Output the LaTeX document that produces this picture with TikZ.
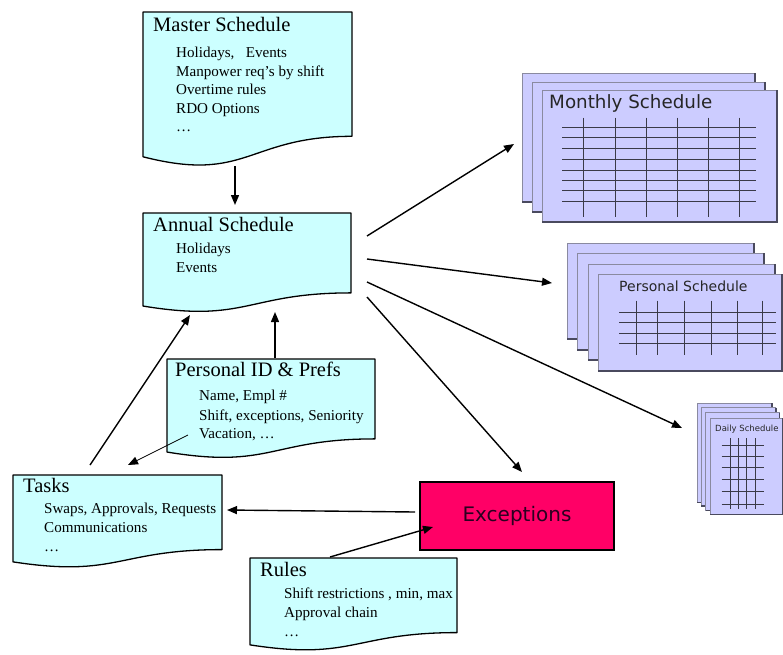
\documentclass[tikz,border=0pt]{standalone}
\usepackage{fontspec}
\setmainfont{Liberation Serif}
\newfontfamily\sansf{DejaVu Sans}
\usetikzlibrary{arrows.meta}
\definecolor{docfill}{HTML}{CCFFFF}
\definecolor{pagefill}{HTML}{CCCCFF}
\definecolor{excfill}{HTML}{FF0066}
\definecolor{pageedge}{HTML}{8A8AA0}
\definecolor{pageshadow}{HTML}{4A4A5E}
\definecolor{gridcol}{HTML}{3A3A48}
\definecolor{exctext}{HTML}{2A0020}
\tikzset{
  docstyle/.style={fill=docfill, draw=black, line width=1.3pt, line join=round},
  doctitle/.style={font=\fontsize{20.5}{24}\selectfont, anchor=base west, inner sep=0pt},
  docitem/.style={font=\fontsize{15.1}{18}\selectfont, anchor=base west, inner sep=0pt},
  flow/.style={draw=black, line width=1.4pt, -{Triangle[length=10pt,width=8pt]}},
  thinflow/.style={draw=black, line width=0.8pt, -{Triangle[length=10pt,width=8pt]}},
  sheetfill/.style={fill=pagefill},
  sheetedge/.style={draw=pageedge, line width=0.8pt},
  sheetshadow/.style={draw=pageshadow, line width=1.6pt},
  gridline/.style={draw=gridcol, line width=0.8pt},
  schedtitle/.style={anchor=base west, inner sep=0pt, text=black!85},
}
% document shape: name, left, top, right, height
\newcommand{\docshape}[5]{%
  \draw[docstyle] (#2,#3) -- (#4,#3) -- (#4,{#3+0.802*#5})
    .. controls ({(#2+#4)/2},{#3+0.802*#5}) and ({(#2+#4)/2},{#3+1.107*#5}) .. (#2,{#3+0.934*#5}) -- cycle;
  \coordinate (#1) at ({(#2+#4)/2},{#3+#5/2});
}
% sheet: left, top, right, bottom
\newcommand{\sheet}[4]{%
  \fill[sheetfill] (#1,#2) rectangle (#3,#4);
  \draw[sheetedge] (#1,#4) -- (#1,#2) -- (#3,#2);
  \draw[sheetshadow] (#3,#2) -- (#3,#4) -- (#1,#4);
}
\begin{document}
\begin{tikzpicture}[x=1pt, y=-1pt]
\useasboundingbox (0,0) rectangle (783,654);

% ---------- documents ----------
\docshape{master}{143}{12}{352}{155}
\node[doctitle] (mastertitle) at (153,31) {Master Schedule};
\node[docitem] (master1) at (176,57) {Holidays,\ \ \ Events};
\node[docitem] (master2) at (176,76) {Manpower req’s by shift};
\node[docitem] (master3) at (176,94.5) {Overtime rules};
\node[docitem] (master4) at (176,113) {RDO Options};
\node[docitem] (master5) at (176,131.5) {…};

\docshape{annual}{143}{213}{351}{99.6}
\node[doctitle] (annualtitle) at (153,231) {Annual Schedule};
\node[docitem] (annual1) at (176,253.5) {Holidays};
\node[docitem] (annual2) at (176,272) {Events};

\docshape{pers}{167}{359}{375}{99.6}
\node[doctitle] (perstitle) at (175,376.5) {Personal ID \& Prefs};
\node[docitem] (pers1) at (199,400) {Name, Empl \#};
\node[docitem] (pers2) at (199,420) {Shift, exceptions, Seniority};
\node[docitem] (pers3) at (199,438) {Vacation, …};

\docshape{tasks}{13}{475}{222}{93}
\node[doctitle] (taskstitle) at (23,492) {Tasks};
\node[docitem] (tasks1) at (44,513.5) {Swaps, Approvals, Requests};
\node[docitem] (tasks2) at (44,532) {Communications};
\node[docitem] (tasks3) at (44,551) {…};

\docshape{rules}{250}{558}{457}{93}
\node[doctitle] (rulestitle) at (260,576) {Rules};
\node[docitem] (rules1) at (284,598) {Shift restrictions , min, max};
\node[docitem] (rules2) at (284,617.5) {Approval chain};
\node[docitem] (rules3) at (284,636) {…};

% ---------- exceptions ----------
\node[draw=black, line width=1.3pt, fill=excfill, minimum width=194pt, minimum height=68pt,
      inner sep=0pt, font=\sansf\fontsize{20}{24}\selectfont, text=exctext] (exc) at (517,516) {Exceptions};

% ---------- monthly schedule ----------
\sheet{522}{73}{755}{202}
\sheet{532}{82}{765}{212}
\sheet{542}{90}{777}{222}
\node[schedtitle, font=\sansf\fontsize{18.3}{22}\selectfont] (monthly) at (549,108) {Monthly Schedule};
\foreach \yy in {127.3,137.7,148.3,159,170,180,190.7,201}
  \draw[gridline] (562,\yy) -- (756,\yy);
\foreach \xx in {583.3,615,646,677.3,708.7,739.3}
  \draw[gridline] (\xx,117.7) -- (\xx,216.7);

% ---------- personal schedule ----------
\sheet{567}{243}{754}{339}
\sheet{577}{253}{764}{350}
\sheet{588}{264}{775}{360}
\sheet{598}{274}{782}{371}
\node[schedtitle, font=\sansf\fontsize{14}{17}\selectfont] (personal) at (619,291.5) {Personal Schedule};
\foreach \yy in {312.3,322.7,333.3,343.3}
  \draw[gridline] (619,\yy) -- (776,\yy);
\foreach \xx in {636.7,657.7,684.3,711.7,737.7,762.7}
  \draw[gridline] (\xx,300.7) -- (\xx,354.5);

% ---------- daily schedule ----------
\sheet{697}{403}{772}{502.5}
\sheet{701}{407.5}{776}{506}
\sheet{705.5}{412.5}{779.5}{510.5}
\sheet{710}{418}{782.3}{514.5}
\node[schedtitle, font=\sansf\fontsize{8.5}{10}\selectfont] (daily) at (715,431.5) {Daily Schedule};
\foreach \yy in {445,456,467.7,479.3,491.7,504}
  \draw[gridline, line width=0.6pt] (721.7,\yy) -- (764,\yy);
\foreach \xx in {730,738.3,746.7,755}
  \draw[gridline, line width=0.6pt] (\xx,438) -- (\xx,509);

% ---------- connector end points ----------
\coordinate (masterOut) at (235,166);
\coordinate (annualIn) at (235,205);
\coordinate (annualOutM) at (367,236);
\coordinate (monthlyIn) at (514,144);
\coordinate (annualOutP) at (367,259);
\coordinate (personalIn) at (552,283);
\coordinate (annualOutD) at (367,282);
\coordinate (dailyIn) at (682,428);
\coordinate (annualOutE) at (367,297);
\coordinate (excIn) at (522,472);
\coordinate (tasksOut) at (90,465);
\coordinate (annualInT) at (190,315);
\coordinate (persOut) at (275,358);
\coordinate (annualInP) at (275,312);
\coordinate (persOutT) at (188,435);
\coordinate (tasksInP) at (128,465);
\coordinate (excOut) at (415,512);
\coordinate (tasksInE) at (227,510);
\coordinate (rulesOut) at (330,557);
\coordinate (excInR) at (433,527);

% ---------- connectors ----------
\draw[flow] (masterOut) -- (annualIn);
\draw[flow] (annualOutM) -- (monthlyIn);
\draw[flow] (annualOutP) -- (personalIn);
\draw[flow] (annualOutD) -- (dailyIn);
\draw[flow] (annualOutE) -- (excIn);
\draw[flow] (tasksOut) -- (annualInT);
\draw[flow] (persOut) -- (annualInP);
\draw[thinflow] (persOutT) -- (tasksInP);
\draw[flow] (excOut) -- (tasksInE);
\draw[flow] (rulesOut) -- (excInR);
\end{tikzpicture}
\end{document}
